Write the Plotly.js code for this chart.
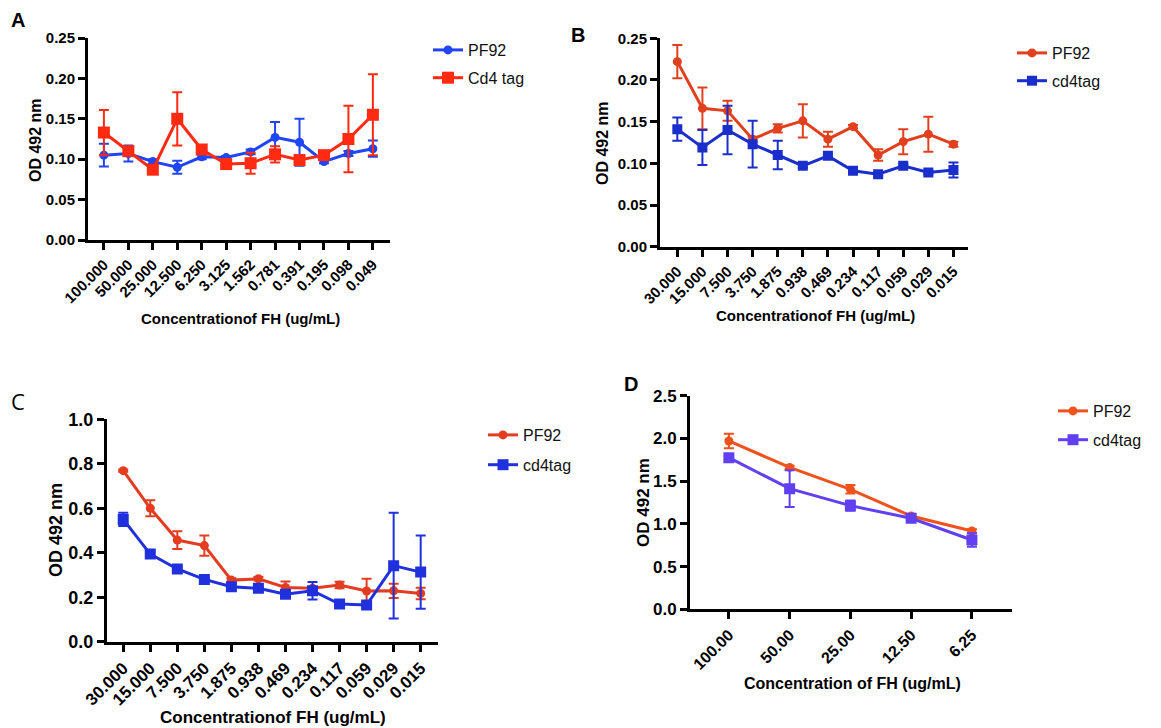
<!DOCTYPE html>
<html>
<head>
<meta charset="utf-8">
<script src="https://cdn.plot.ly/plotly-3.0.1.min.js"></script>
<style>html,body{margin:0;padding:0;background:#fff;}#chart{width:1161px;height:728px;}</style>
</head>
<body>
<div id="chart"></div>
<script>
// ---------- data ----------
const catsA = ["100.000","50.000","25.000","12.500","6.250","3.125","1.562","0.781","0.391","0.195","0.098","0.049"];
const catsBC = ["30.000","15.000","7.500","3.750","1.875","0.938","0.469","0.234","0.117","0.059","0.029","0.015"];
const catsD = ["100.00","50.00","25.00","12.50","6.25"];

const aPF92 = [0.105,0.107,0.097,0.090,0.103,0.102,0.109,0.127,0.121,0.097,0.107,0.113];
const aPF92Err = [0.014,0.010,0.003,0.008,0.003,0.002,0.003,0.019,0.029,0.002,0.003,0.010];
const aCd4 = [0.133,0.110,0.087,0.150,0.112,0.094,0.095,0.106,0.099,0.105,0.125,0.155];
const aCd4Err = [0.028,0.004,0.004,0.033,0.004,0.003,0.013,0.010,0.003,0.003,0.041,0.050];

const bPF92 = [0.222,0.166,0.163,0.129,0.142,0.151,0.129,0.144,0.110,0.126,0.135,0.123];
const bPF92Err = [0.020,0.025,0.012,0.003,0.005,0.020,0.009,0.002,0.007,0.015,0.021,0.003];
const bCd4 = [0.141,0.119,0.140,0.123,0.110,0.097,0.109,0.091,0.087,0.097,0.089,0.092];
const bCd4Err = [0.014,0.021,0.029,0.028,0.017,0.002,0.002,0.002,0.002,0.002,0.002,0.009];

const cPF92 = [0.769,0.600,0.457,0.432,0.277,0.283,0.244,0.240,0.255,0.228,0.229,0.217];
const cPF92Err = [0.005,0.036,0.040,0.045,0.008,0.008,0.027,0.006,0.015,0.055,0.032,0.026];
const cCd4 = [0.550,0.394,0.327,0.280,0.247,0.240,0.213,0.229,0.169,0.165,0.342,0.313];
const cCd4Err = [0.030,0.008,0.008,0.006,0.008,0.006,0.010,0.039,0.006,0.006,0.238,0.165];

const dPF92 = [1.970,1.661,1.404,1.092,0.917];
const dPF92Err = [0.086,0.020,0.050,0.015,0.020];
const dCd4 = [1.775,1.412,1.213,1.065,0.811];
const dCd4Err = [0.020,0.216,0.060,0.020,0.080];

// ---------- helpers ----------
const FAM = "Liberation Sans, Arial, sans-serif";
function tr(x, y, err, name, color, symbol, msize, xa, ya, leg, grp) {
  return {
    type: "scatter", mode: "lines+markers", x: x, y: y, name: name,
    xaxis: xa, yaxis: ya, legend: leg, legendgroup: grp,
    line: {color: color, width: 3},
    marker: {color: color, symbol: symbol, size: msize},
    error_y: {type: "data", array: err, visible: true, color: color, thickness: 2, width: 5}
  };
}
function xax(dom, range, anchor, fs) {
  return {domain: dom, range: range, anchor: anchor, type: "category",
    showline: true, linecolor: "#000", linewidth: 3, mirror: false,
    ticks: "outside", ticklen: 7, tickwidth: 3, tickcolor: "#000",
    tickangle: -45, showgrid: false, zeroline: false,
    tickfont: {family: FAM, size: fs, color: "#000", weight: 700}};
}
function yax(dom, range, dtick, fmt, anchor, fs) {
  return {domain: dom, range: range, anchor: anchor, dtick: dtick, tick0: 0, tickformat: fmt,
    showline: true, linecolor: "#000", linewidth: 3,
    ticks: "outside", ticklen: 7, tickwidth: 3, tickcolor: "#000",
    showgrid: false, zeroline: false,
    tickfont: {family: FAM, size: fs, color: "#000", weight: 700}};
}
function legend(x, y, fs, gap) {
  return {x: x, y: y, xanchor: "left", yanchor: "top", bgcolor: "rgba(0,0,0,0)",
    traceorder: "grouped", tracegroupgap: gap,
    font: {family: FAM, size: fs, color: "#111"}};
}
function ann(text, x, y, fs, angle, bold, fam) {
  return {text: text, x: x, y: y, xref: "paper", yref: "paper", showarrow: false,
    xanchor: "center", yanchor: "middle", textangle: angle || 0,
    font: {family: fam || FAM, size: fs, color: "#000", weight: bold ? 700 : 400}};
}
const W = 1161, H = 728;
const px = v => v / W, py = v => 1 - v / H;

const data = [
  tr(catsA, aPF92, aPF92Err, "PF92", "#1f45f5", "circle", 9, "x", "y", "legend", "a1"),
  tr(catsA, aCd4, aCd4Err, "Cd4 tag", "#ff2a12", "square", 12, "x", "y", "legend", "a2"),
  tr(catsBC, bPF92, bPF92Err, "PF92", "#e0401e", "circle", 9, "x2", "y2", "legend2", "b1"),
  tr(catsBC, bCd4, bCd4Err, "cd4tag", "#1a2ecc", "square", 10, "x2", "y2", "legend2", "b2"),
  tr(catsBC, cPF92, cPF92Err, "PF92", "#e33c20", "circle", 9, "x3", "y3", "legend3", "c1"),
  tr(catsBC, cCd4, cCd4Err, "cd4tag", "#1f30dc", "square", 11, "x3", "y3", "legend3", "c2"),
  tr(catsD, dPF92, dPF92Err, "PF92", "#f0521e", "circle", 9, "x4", "y4", "legend4", "d1"),
  tr(catsD, dCd4, dCd4Err, "cd4tag", "#6040f0", "square", 11, "x4", "y4", "legend4", "d2")
];

const layout = {
  width: W, height: H, margin: {l: 0, r: 0, t: 0, b: 0},
  paper_bgcolor: "#fff", plot_bgcolor: "#fff", showlegend: true,
  xaxis: xax([px(88), px(390)], [-0.65, 11.7], "y", 15),
  yaxis: yax([py(240), py(38)], [0, 0.25], 0.05, ".2f", "x", 15),
  xaxis2: xax([px(660), px(968)], [-0.69, 11.58], "y2", 15),
  yaxis2: yax([py(246.7), py(38.3)], [0, 0.25], 0.05, ".2f", "x2", 15),
  xaxis3: xax([px(107), px(438)], [-0.6, 11.64], "y3", 17),
  yaxis3: yax([py(641.7), py(419.3)], [0, 1.0], 0.2, ".1f", "x3", 18),
  xaxis4: xax([px(690), px(1012)], [-0.64, 4.66], "y4", 16),
  yaxis4: yax([py(609.3), py(395.7)], [0, 2.5], 0.5, ".1f", "x4", 17),
  legend: legend(px(428), py(33), 16, 4),
  legend2: legend(px(1012), py(36), 16, 4),
  legend3: legend(px(483), py(418), 16, 6),
  legend4: legend(px(1053), py(394), 16, 5),
  annotations: [
    ann("A", px(18), py(20), 20, 0, true),
    ann("B", px(578), py(35), 20, 0, true),
    ann("C", px(18), py(401), 22, 0, false, "Open Sans, sans-serif"),
    ann("D", px(631), py(384), 20, 0, true),
    ann("OD 492 nm", px(35), py(140), 16, -90, true),
    ann("Concentrationof FH (ug/mL)", px(240), py(318), 15, 0, true),
    ann("OD 492 nm", px(603), py(143), 16, -90, true),
    ann("Concentrationof FH (ug/mL)", px(815), py(315), 15, 0, true),
    ann("OD 492 nm", px(56), py(530), 18, -90, true),
    ann("Concentrationof FH (ug/mL)", px(273), py(717), 17, 0, true),
    ann("OD 492 nm", px(643), py(503), 17, -90, true),
    ann("Concentration of FH (ug/mL)", px(852), py(683), 16, 0, true)
  ]
};

Plotly.newPlot("chart", data, layout, {staticPlot: true, displayModeBar: false});
</script>
</body>
</html>
